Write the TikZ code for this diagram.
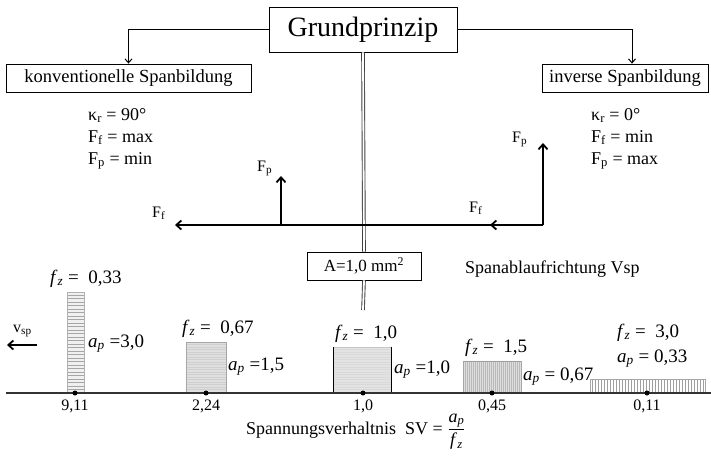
\documentclass[tikz,border=0pt]{standalone}
\usepackage{fontspec}
\setmainfont{Liberation Serif}
\usetikzlibrary{arrows.meta}

\newcommand\fz{\textit{f}\textsubscript{\textit{z}}}
\newcommand\ap{\textit{a}\textsubscript{\textit{p}}}
\newcommand\fsz[1]{\fontsize{#1}{#1}\selectfont}

\tikzset{
  boxnode/.style={draw, thick, fill=white, inner sep=0pt},
  plain/.style={inner sep=0pt, anchor=base west, font=\fsz{18}},
  force/.style={line width=1.8pt, -{Straight Barb[length=5pt,width=9pt]}},
  link/.style={line width=1pt, -{Straight Barb[length=4pt,width=7pt]}},
  centreline/.style={double=white, double distance=1.8pt, line width=0.9pt, draw=black!75},
  barlabel/.style={inner sep=0pt, anchor=base west, font=\fsz{19}},
  ticklabel/.style={inner sep=0pt, anchor=base, font=\fsz{16}},
}

\begin{document}
\begin{tikzpicture}[x=1pt, y=-1pt]
  \useasboundingbox (0,0) rectangle (711,455);

  % ---- boxes ----
  \node[boxnode, minimum width=188, minimum height=45, font=\fsz{28}]
    (gp) at (363,29.5) {Grundprinzip};
  \node[boxnode, minimum width=245, minimum height=28, font=\fsz{18.5}]
    (konv) at (128.5,78) {konventionelle Spanbildung};
  \node[boxnode, minimum width=166, minimum height=28, font=\fsz{18.5}]
    (inv) at (625,78) {inverse Spanbildung};
  \node[boxnode, minimum width=114, minimum height=28, font=\fsz{17}]
    (area) at (364,266) {A=1,0 mm\textsuperscript{2}};

  \draw[link] (gp.west) -| (konv.north);
  \draw[link] (gp.east) -| ([xshift=7pt]inv.north);

  % ---- double centre line ----
  \coordinate (dl) at (363,310);
  \draw[centreline] (gp.south) -- (area.north);
  \draw[centreline] (area.south) -- (dl);

  % ---- conditions ----
  \node[plain] (kl) at (88,120) {κ\textsubscript{r} = 90°};
  \node[plain] (fl) at (88,142) {F\textsubscript{f} = max};
  \node[plain] (pl) at (88,164) {F\textsubscript{p} = min};
  \node[plain] (kr) at (591,120) {κ\textsubscript{r} = 0°};
  \node[plain] (fr) at (591,142) {F\textsubscript{f} = min};
  \node[plain] (pr) at (591,164) {F\textsubscript{p} = max};

  % ---- force diagrams ----
  \coordinate (o1) at (281,225);
  \coordinate (o2) at (543,225);
  \coordinate (ffl) at (175,225);
  \coordinate (ffr) at (490,225);
  \coordinate (fpl) at (281,176);
  \coordinate (fpr) at (543,143);
  \draw[force] (o2) -- (ffl);
  \draw[force] (o2) -- (ffr);
  \draw[force] (o1) -- (fpl);
  \draw[force] (o2) -- (fpr);
  \node[plain, font=\fsz{16}] (lfp) at (257,171) {F\textsubscript{p}};
  \node[plain, font=\fsz{16}] (lff) at (152,217) {F\textsubscript{f}};
  \node[plain, font=\fsz{16}] (rfp) at (512,142) {F\textsubscript{p}};
  \node[plain, font=\fsz{16}] (rff) at (469,212) {F\textsubscript{f}};

  \node[plain] (dir) at (465,273) {Spanablaufrichtung Vsp};

  % ---- chip cross sections ----
  \fill[gray!12] (67,292) rectangle (84,393);
  \foreach \yy in {295,298.5,...,391} \draw[gray!70, thin] (67,\yy) -- (84,\yy);
  \draw[gray!60] (67,393) |- (84,292) -- (84,393);

  \fill[gray!25] (186,342) rectangle (226,393);
  \foreach \yy in {344.5,347,...,392} \draw[gray!38, very thin] (186,\yy) -- (226,\yy);
  \draw[gray!70, semithick] (186,393) |- (226,342) -- (226,393);

  \fill[gray!22] (333,347) rectangle (391,393);
  \foreach \yy in {349.5,352,...,392} \draw[gray!30, very thin] (333,\yy) -- (391,\yy);
  \draw[gray!45] (333,347) -- (391,347);
  \draw[semithick] (333,347) -- (333,393) (391,347) -- (391,393);

  \fill[gray!25] (463,361) rectangle (521,393);
  \foreach \xx in {465,467,...,520} \draw[gray!55, very thin] (\xx,361) -- (\xx,393);
  \draw[gray!70] (463,393) |- (521,361) -- (521,393);
  \draw[gray!75, semithick] (463,361) -- (521,361);

  \foreach \xx in {592,595,...,704} \draw[gray!75, thin] (\xx,379) -- (\xx,393);
  \draw[gray!70] (590,393) |- (705,379) -- (705,393);

  % ---- bar labels ----
  \node[barlabel] (fz1) at (50,283) {\fz\ =\ \ 0,33};
  \node[barlabel] (ap1) at (88,347) {\ap\ =3,0};
  \node[barlabel] (fz2) at (182,333) {\fz\ =\ \ 0,67};
  \node[barlabel] (ap2) at (228,370) {\ap\ =1,5};
  \node[barlabel] (fz3) at (335,338) {\fz\ =\ \ 1,0};
  \node[barlabel] (ap3) at (394,373) {\ap\ =1,0};
  \node[barlabel] (fz4) at (465,352) {\fz\ =\ \ 1,5};
  \node[barlabel] (ap4) at (523,380) {\ap\ = 0,67};
  \node[barlabel] (fz5) at (617,337) {\fz\ =\ \ 3,0};
  \node[barlabel] (ap5) at (617,362) {\ap\ = 0,33};

  % ---- axis ----
  \draw[line width=1.3pt, black!80] (6,393) -- (711,393);
  \foreach \xx/\lab in {75/{9,11}, 206/{2,24}, 363/{1,0}, 492/{0,45}, 647/{0,11}} {
    \fill (\xx,393) circle (2.5);
    \node[ticklabel] (t\xx) at (\xx,410) {\lab};
  }

  \node[plain, font=\fsz{16}] (vsp) at (13,332) {v\textsubscript{sp}};
  \coordinate (va) at (37,345);
  \coordinate (vb) at (7,345);
  \draw[force] (va) -- (vb);

  \node[plain] (sv) at (246,434)
    {Spannungsverhaltnis\ \ SV = $\displaystyle\frac{\mbox{\ap}}{\mbox{\fz}}$};

\end{tikzpicture}
\end{document}
